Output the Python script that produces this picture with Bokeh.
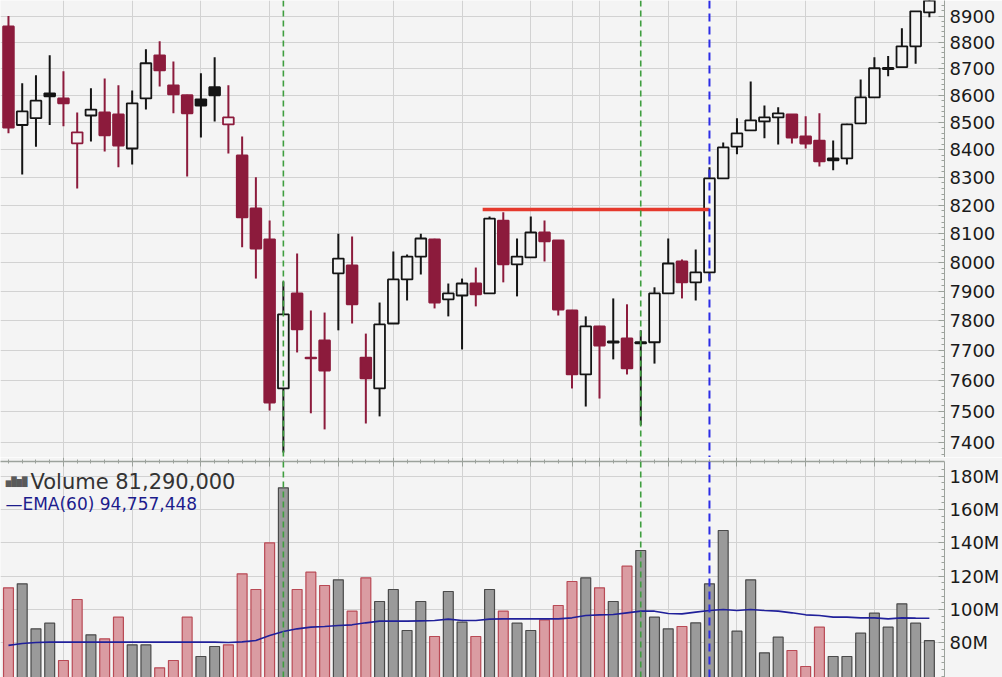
from bokeh.plotting import figure
from bokeh.models import Range1d, FixedTicker, Span, Label, ColumnDataSource
from bokeh.layouts import column
from bokeh.embed import file_html
from bokeh.resources import INLINE

# ---------------- data ----------------
opens = [8860, 8490, 8515, 8607, 8588, 8423, 8525, 8536, 8529, 8404,
         8588, 8750, 8637, 8600, 8585, 8630, 8492, 8379, 8189, 8080,
         7575, 7893, 7677, 7734, 7962, 7989, 7677, 7575, 7791, 7941,
         8020, 8080, 7873, 7886, 7927, 7893, 8146, 7993, 8017, 8104,
         8076, 7835, 7621, 7781, 7731, 7741, 7724, 7728, 7893, 8003,
         7931, 7965, 8296, 8411, 8470, 8503, 8518, 8529, 8448, 8433,
         8368, 8368, 8496, 8592, 8698, 8705, 8784, 8914]
highs = [8900, 8645, 8675, 8750, 8690, 8536, 8626, 8663, 8637, 8618,
         8773, 8803, 8727, 8602, 8682, 8743, 8637, 8448, 8300, 8146,
         7934, 8031, 7835, 7828, 8100, 8090, 7757, 7862, 8038, 8027,
         8100, 8082, 7927, 7944, 7982, 8160, 8175, 8083, 8160, 8146,
         8078, 7837, 7815, 7783, 7876, 7856, 7768, 7914, 8083, 8010,
         8045, 8336, 8426, 8515, 8651, 8562, 8555, 8530, 8522, 8533,
         8433, 8495, 8659, 8743, 8747, 8853, 8918, 9040]
lows = [8460, 8310, 8410, 8490, 8485, 8260, 8430, 8393, 8336, 8346,
        8547, 8633, 8533, 8303, 8444, 8503, 8386, 8052, 7944, 7503,
        7368, 7694, 7494, 7442, 7768, 7791, 7461, 7484, 7791, 7869,
        7958, 7842, 7815, 7704, 7849, 7893, 7931, 7883, 8017, 8003,
        7818, 7575, 7516, 7542, 7671, 7621, 7455, 7657, 7893, 7876,
        7869, 7938, 8296, 8383, 8470, 8441, 8419, 8422, 8404, 8339,
        8325, 8346, 8496, 8592, 8671, 8705, 8718, 8895]
closes = [8480, 8540, 8580, 8596, 8570, 8463, 8547, 8452, 8415, 8570,
          8720, 8693, 8603, 8533, 8562, 8600, 8518, 8157, 8048, 7529,
          7822, 7771, 7674, 7634, 8013, 7856, 7608, 7788, 7941, 8020,
          8083, 7862, 7893, 7927, 7890, 8153, 7993, 8020, 8104, 8073,
          7838, 7621, 7781, 7717, 7727, 7641, 7728, 7893, 7996, 7931,
          7965, 8296, 8408, 8459, 8507, 8518, 8533, 8444, 8422, 8357,
          8361, 8492, 8592, 8701, 8702, 8784, 8918, 9000]
prev_close0 = 8560

volume_m = [113, 115.4, 88.4, 91.8, 69.4, 106, 84.8, 82.4, 95.4, 78.8,
            78.8, 65, 69.4, 95.4, 71.8, 77.8, 78.8, 121.4, 112, 140,
            173, 112, 122.4, 114.4, 117.8, 99, 119, 104.8, 112, 87.4,
            104.8, 83.8, 110.8, 92.4, 83.8, 112, 99, 91.8, 87.4, 93.8,
            102.4, 116.8, 119, 113, 104.8, 126, 135.4, 95.4, 88.4, 89.8,
            92, 115.4, 147.4, 87, 117.8, 74, 83.4, 75.4, 65.8, 89.4,
            71.8, 71.8, 85.8, 97.8, 89.4, 103.4, 91.8, 81.29]
ema60_m = [78.5, 79.6, 80.2, 80.4, 80.4, 80.4, 80.4, 80.4, 80.4, 80.4,
           80.4, 80.4, 80.4, 80.4, 80.4, 80.4, 80.2, 80.6, 81.4, 84.4,
           86.8, 88.4, 89.4, 89.8, 90.4, 90.8, 92.0, 93.0, 93.0, 93.0,
           93.2, 93.4, 94.2, 93.4, 93.4, 94.2, 94.4, 94.4, 94.4, 94.4,
           94.4, 95.0, 96.4, 96.8, 97.0, 98.0, 99.0, 99.0, 97.6, 97.4,
           98.4, 99.4, 100.0, 99.4, 100.0, 99.4, 99.0, 98.0, 96.8, 96.4,
           95.4, 95.4, 95.0, 95.0, 94.4, 95.0, 94.8, 94.757448]

price_ticks = [7400, 7500, 7600, 7700, 7800, 7900, 8000, 8100,
               8200, 8300, 8400, 8500, 8600, 8700, 8800, 8900]
price_tick_labels = ["7400", "7500", "7600", "7700", "7800", "7900", "8000", "8100",
                     "8200", "8300", "8400", "8500", "8600", "8700", "8800", "8900"]
vol_ticks_m = [80, 100, 120, 140, 160, 180]
vol_tick_labels = ["80M", "100M", "120M", "140M", "160M", "180M"]
grid_days = [4, 9, 14, 19, 24, 28, 33, 38, 41, 43, 48, 53, 58, 63]

marker_green = [20, 46]
marker_blue = [51]
resistance_level = 8185
resistance_from = 34.5
resistance_to = 51

# ---------------- styling ----------------
BG = "#f4f4f4"
RED = "#8c1b3c"
BLACK = "#141414"
GRID = "#d2d2d2"
AXIS = "#9ca29c"
FONT = "DejaVu Sans"

n = len(closes)
xs = list(range(n))
prev = [prev_close0] + closes[:-1]
col = [BLACK if c >= p else RED for c, p in zip(closes, prev)]
fill = [BG if c > o else cc for o, c, cc in zip(opens, closes, col)]
tops = [max(o, c) for o, c in zip(opens, closes)]
bots = [min(o, c) for o, c in zip(opens, closes)]
vol_fill = ["#9a9a9a" if cc == BLACK else "#da9ca2" for cc in col]
vol_line = ["#4a4a4a" if cc == BLACK else "#b94a55" for cc in col]

src = ColumnDataSource(dict(x=xs, o=opens, h=highs, l=lows, c=closes, top=tops, bot=bots,
                            col=col, fill=fill,
                            vol=[v * 1e6 for v in volume_m],
                            ema=[e * 1e6 for e in ema60_m],
                            vfill=vol_fill, vline=vol_line))

x_range = Range1d(-0.58, 68.1)

def style_axis(ax):
    ax.axis_line_color = AXIS
    ax.major_tick_line_color = AXIS
    ax.minor_tick_line_color = AXIS
    ax.major_label_text_font = FONT
    ax.major_label_text_color = "#1a1a1a"

# ---------------- price panel ----------------
p1 = figure(width=1002, height=457, x_range=x_range, y_range=Range1d(7352, 8960),
            y_axis_type="log", y_axis_location="right", x_axis_location=None,
            output_backend="svg", toolbar_location=None,
            min_border_left=0, min_border_right=57, min_border_top=0, min_border_bottom=0,
            background_fill_color=BG, border_fill_color=BG, outline_line_color=None)

p1.yaxis.ticker = FixedTicker(ticks=price_ticks, minor_ticks=list(range(7360, 8960, 20)))
p1.yaxis.major_label_overrides = {t: s for t, s in zip(price_ticks, price_tick_labels)}
style_axis(p1.yaxis[0])
p1.yaxis.major_label_text_font_size = "18px"
p1.yaxis.major_tick_in = 6
p1.yaxis.major_tick_out = 0
p1.yaxis.minor_tick_in = 3
p1.yaxis.minor_tick_out = 0
p1.yaxis.major_label_standoff = 5
p1.ygrid.ticker = FixedTicker(ticks=price_ticks)
p1.xgrid.ticker = FixedTicker(ticks=grid_days)
p1.grid.grid_line_color = GRID
p1.grid.grid_line_width = 1

p1.segment(x0="x", y0="l", x1="x", y1="h", line_color="col", line_width=2, source=src)
p1.vbar(x="x", top="top", bottom="bot", width=0.78, fill_color="fill",
        line_color="col", line_width=1.8, source=src)
p1.segment(x0=[resistance_from], y0=[resistance_level], x1=[resistance_to], y1=[resistance_level],
           line_color="#e5392c", line_width=3.5)

# ---------------- volume panel ----------------
p2 = figure(width=1002, height=220, x_range=x_range, y_range=Range1d(59.2e6, 188.8e6),
            y_axis_location="right", x_axis_location="above",
            output_backend="svg", toolbar_location=None,
            min_border_left=0, min_border_right=57, min_border_top=0, min_border_bottom=0,
            background_fill_color=BG, border_fill_color=BG, outline_line_color=None)

vol_ticks = [v * 1e6 for v in vol_ticks_m]
p2.yaxis.ticker = FixedTicker(ticks=vol_ticks, minor_ticks=[v * 1e6 for v in range(60, 188, 4)])
p2.yaxis.major_label_overrides = {t: s for t, s in zip(vol_ticks, vol_tick_labels)}
style_axis(p2.yaxis[0])
p2.yaxis.major_label_text_font_size = "18px"
p2.yaxis.major_tick_in = 6
p2.yaxis.major_tick_out = 0
p2.yaxis.minor_tick_in = 3
p2.yaxis.minor_tick_out = 0
p2.yaxis.major_label_standoff = 5

# divider between the panels: a tick-only axis (labels not drawn)
p2.xaxis.ticker = FixedTicker(ticks=grid_days, minor_ticks=xs)
style_axis(p2.xaxis[0])
p2.xaxis.major_label_text_font_size = "1px"
p2.xaxis.major_label_text_color = None
p2.xaxis.major_label_standoff = 0
p2.xaxis.major_tick_in = 5
p2.xaxis.major_tick_out = 4
p2.xaxis.minor_tick_in = 2
p2.xaxis.minor_tick_out = 2
p2.xaxis.axis_line_width = 1.5

p2.ygrid.ticker = FixedTicker(ticks=vol_ticks)
p2.xgrid.ticker = FixedTicker(ticks=grid_days)
p2.grid.grid_line_color = GRID

p2.vbar(x="x", top="vol", bottom=0, width=0.72, fill_color="vfill", line_color="vline",
        line_width=1.2, source=src)
p2.line(x="x", y="ema", line_color="#20209a", line_width=1.6, source=src)

# ---------------- markers ----------------
for p in (p1, p2):
    for loc in marker_green:
        p.add_layout(Span(location=loc, dimension="height", line_color="#3f9e3f",
                          line_width=1.6, line_dash="6 4"))
    for loc in marker_blue:
        p.add_layout(Span(location=loc, dimension="height", line_color="#2c2ce6",
                          line_width=2, line_dash="8 5"))

# ---------------- legend texts ----------------
vol_text = "Volume {:,}".format(int(round(volume_m[-1] * 1e6)))
ema_text = "\u2014EMA(60) {:,}".format(int(round(ema60_m[-1] * 1e6)))
p2.add_layout(Label(x=-0.2, y=176.3e6, text="\u2585\u2588\u2586\u2588",
                    text_font="DejaVu Sans Mono", text_font_size="9px",
                    text_color="#5a5a5a", text_baseline="alphabetic"))
p2.add_layout(Label(x=1.6, y=176.3e6, text=vol_text, text_font=FONT,
                    text_font_size="21px", text_color="#333333", text_baseline="alphabetic"))
p2.add_layout(Label(x=-0.22, y=163.4e6, text=ema_text, text_font=FONT,
                    text_font_size="17px", text_color="#1c1c8c", text_baseline="alphabetic"))

layout = column(p1, p2, spacing=0)
open("out.html", "w").write(file_html(layout, INLINE))
